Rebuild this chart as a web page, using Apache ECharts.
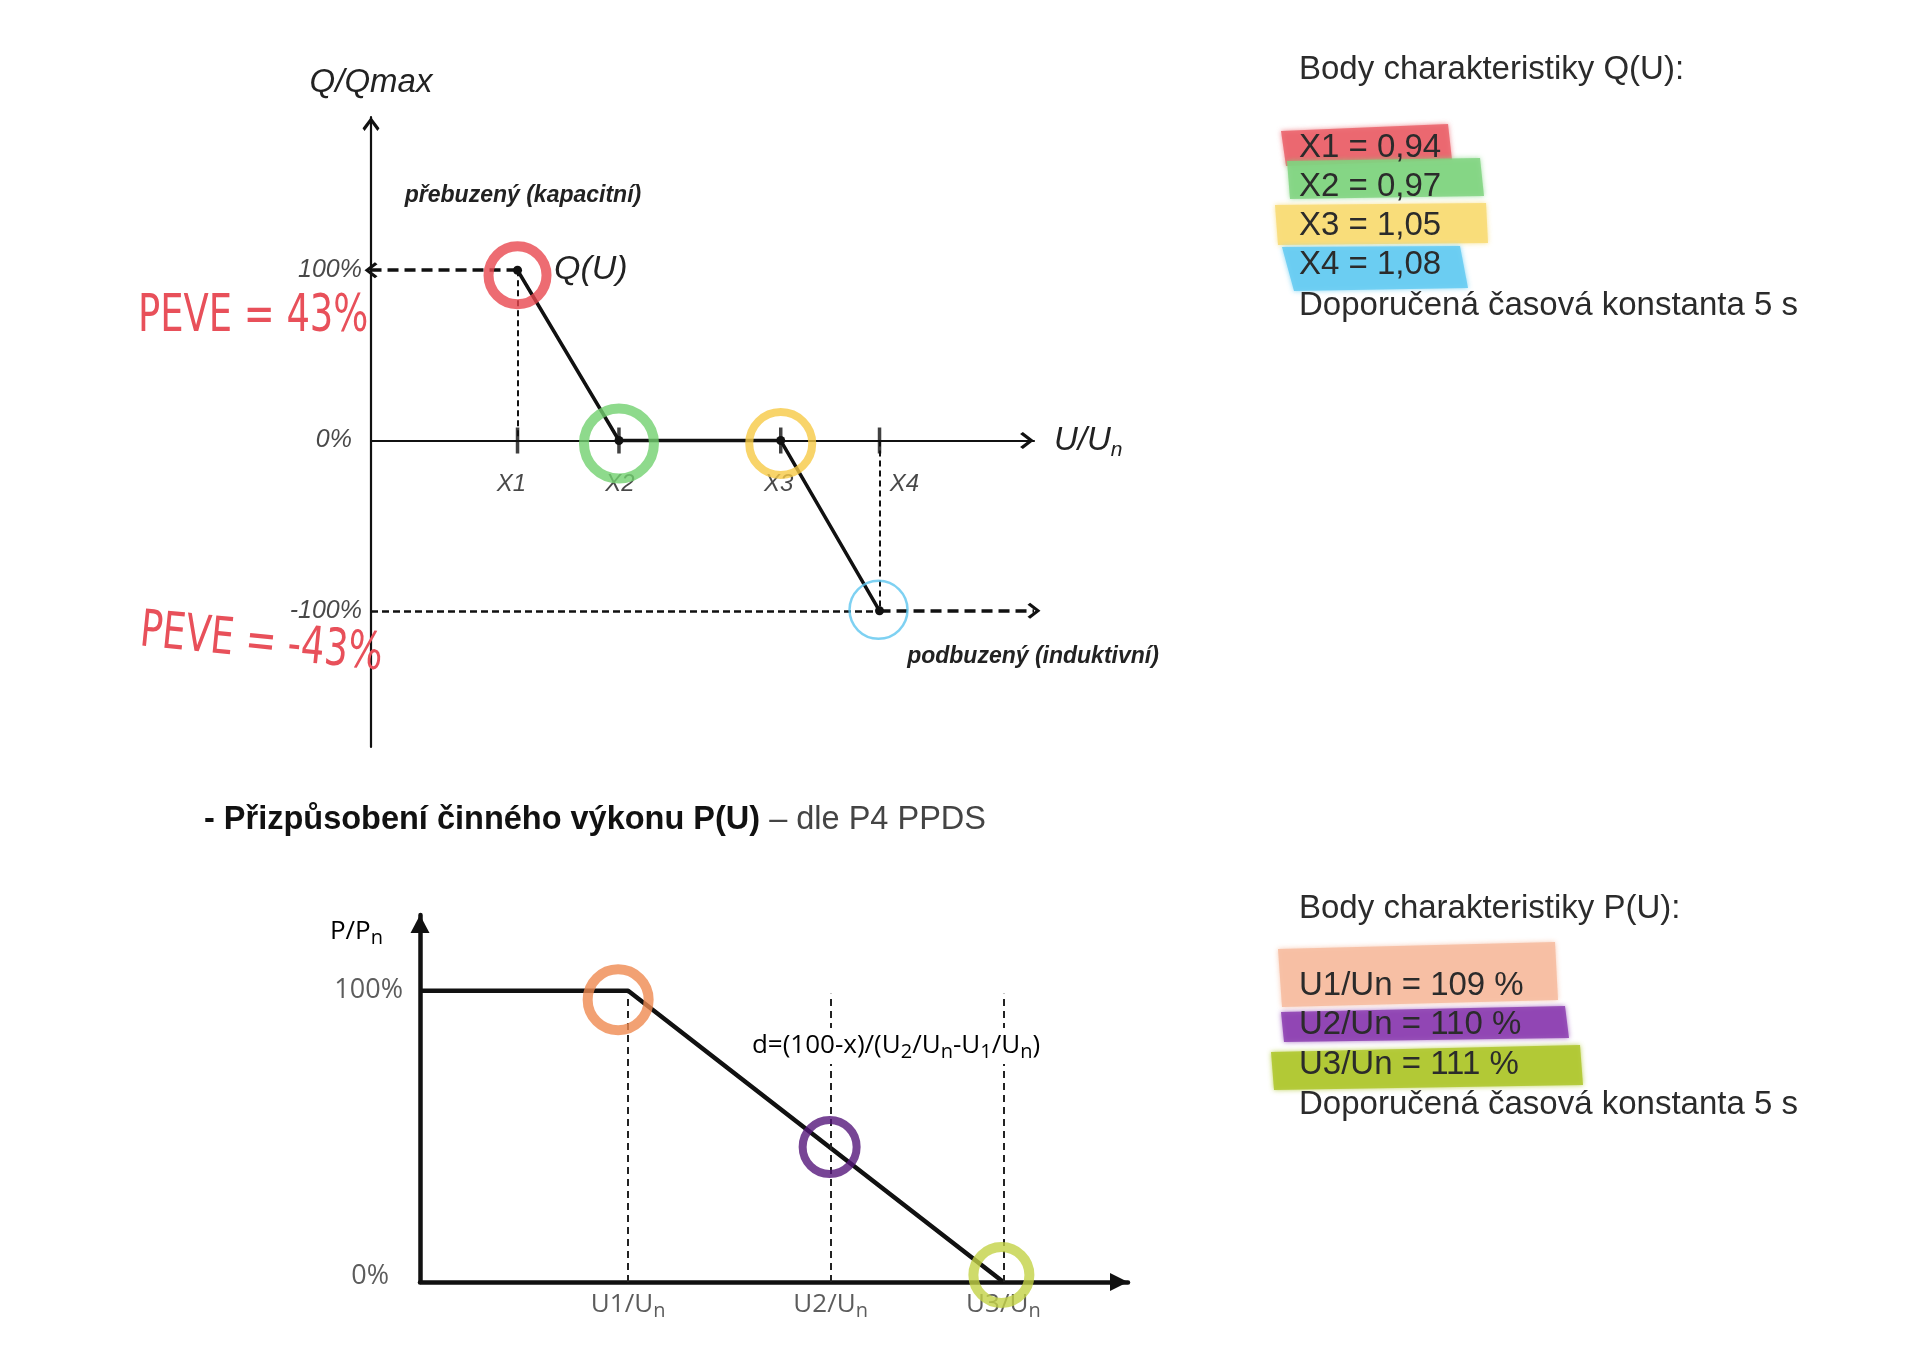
<!DOCTYPE html>
<html><head><meta charset="utf-8">
<script src="https://cdn.jsdelivr.net/npm/echarts@6/dist/echarts.min.js"></script>
<style>html,body{margin:0;padding:0;background:#fff}#c{width:1918px;height:1346px}</style>
</head><body><div id="c"></div>
<script>
// ---------- Q(U) characteristic ----------
const qPointNames = ['X1', 'X2', 'X3', 'X4'];
const qPointValues = ['0,94', '0,97', '1,05', '1,08'];      // U/Un
const qPointPos = [22.1, 37.4, 61.8, 76.7];                 // schematic position on the U/Un axis (0-100)
const qPointQ = [100, 0, 0, -100];                          // Q/Qmax [%]
const qTickValues = [100, 0, -100];
const qTickLabels = ['100%', '0%', '-100%'];
const qArrowEnd = 100;
const qNotes = ['PEVE = 43%', 'PEVE = -43%'];
// ---------- P(U) characteristic ----------
const pPointNames = ['U1', 'U2', 'U3'];
const pPointPercent = [109, 110, 111];                      // U/Un [%]
const pPointPos = [29.4, 58.0, 82.4];                       // schematic position on the U/Un axis (0-100)
const pPointP = [100, 46, 0];                               // P/Pn [%]
const pStartP = 100;
const pGuideTop = 99;
const pTickValues = [100, 0];
const pTickLabels = ['100%', '0%'];
const recTimeS = 5;

const FA = "'Liberation Sans', Arial, Helvetica, sans-serif";
const FO = "'Open Sans', 'Noto Sans', sans-serif";
const FN = "'Liberation Sans Narrow', 'DejaVu Sans Condensed', 'Liberation Sans', sans-serif";
const CHEV = 'path://M61.5,0 L123,80 L108,100 L61.5,38 L15,100 L0,80 Z';
const INK = '#111';

const thick = {type: [11, 6], width: 3.5, color: INK};
const thin = {type: [6, 4], width: 2, color: INK};
const mid = {type: [7, 4], width: 2.5, color: INK};

const qRing = [
  {c: '#e8474f', s: 58, w: 10, off: [0, 5]},
  {c: '#72d16f', s: 70, w: 10, off: [0, 3]},
  {c: '#f6c945', s: 63, w: 8, off: [0, 3]},
  {c: '#5ec6ef', s: 58, w: 2.5, off: [-1, -1]}
];
const pRing = [
  {c: '#ef8a50', s: 61, w: 10, off: [-10, 9]},
  {c: '#55177a', s: 54, w: 8, off: [-1, -1]},
  {c: '#c3d246', s: 56, w: 10, off: [-2, -7]}
];
const qLabelShift = [-6, 1, -2, 25];

const subRich = {
  a: {fontFamily: FO, fontSize: 26, color: '#333', lineHeight: 32},
  n: {fontFamily: FO, fontSize: 20, color: '#333', lineHeight: 25, verticalAlign: 'bottom'}
};

const chart = echarts.init(document.getElementById('c'), null, {renderer: 'canvas', width: 1918, height: 1346});

const graphic = [];
// highlighter bands
const bands = [
  {p: [[1281,131],[1448,124],[1452,160],[1286,166]], c: 'rgba(234,98,106,0.85)'},
  {p: [[1287,161],[1480,158],[1484,196],[1290,199]], c: 'rgba(128,212,128,0.85)'},
  {p: [[1275,205],[1486,203],[1488,243],[1278,245]], c: 'rgba(248,220,120,0.9)'},
  {p: [[1282,247],[1460,246],[1468,288],[1294,291]], c: 'rgba(104,204,242,0.9)'},
  {p: [[1278,949],[1555,942],[1558,1000],[1282,1007]], c: 'rgba(246,190,162,0.9)'},
  {p: [[1281,1012],[1565,1006],[1569,1038],[1284,1042]], c: 'rgba(140,62,176,0.85)'},
  {p: [[1271,1052],[1580,1045],[1583,1085],[1274,1090]], c: 'rgba(176,200,50,0.9)'}
];
bands.forEach(b => graphic.push({type: 'polygon', z: 50, silent: true, shape: {points: b.p},
  style: {fill: b.c, shadowBlur: 5, shadowColor: b.c}}));

function txt(x, y, text, st, extra) {
  graphic.push(Object.assign({type: 'text', x: x, y: y, z: 60, silent: true,
    style: Object.assign({text: text, verticalAlign: 'middle', align: 'left'}, st)}, extra || {}));
}
const panel = {fontFamily: FA, fontSize: 33, fill: '#2b2b2b'};
txt(1299, 70, 'Body charakteristiky Q(U):', panel);
const qRows = [148, 187, 226, 265];
qPointNames.forEach((n, i) => txt(1299, qRows[i], n + ' = ' + qPointValues[i], panel));
txt(1299, 306, 'Doporučená časová konstanta ' + recTimeS + ' s', panel);
txt(1299, 909, 'Body charakteristiky P(U):', panel);
const pRows = [986, 1025, 1065];
pPointNames.forEach((n, i) => txt(1299, pRows[i], n + '/Un = ' + pPointPercent[i] + ' %', panel));
txt(1299, 1105, 'Doporučená časová konstanta ' + recTimeS + ' s', panel);

// section heading
txt(204, 820, '{b|- Přizpůsobení činného výkonu P(U)}{l| – dle P4 PPDS}', {
  rich: {b: {fontFamily: FA, fontWeight: 'bold', fontSize: 32.5, fill: '#111'},
         l: {fontFamily: FA, fontSize: 32.5, fill: '#444'}}
});

// top chart annotations
const ital = {fontFamily: FA, fontStyle: 'italic', fill: '#222'};
txt(523, 196, 'přebuzený (kapacitní)', Object.assign({fontSize: 23, fontWeight: 'bold', align: 'center'}, ital));
txt(1033, 657, 'podbuzený (induktivní)', Object.assign({fontSize: 23, fontWeight: 'bold', align: 'center'}, ital));
txt(554, 270, 'Q(U)', Object.assign({fontSize: 34}, ital));
// handwritten notes
const hand = {fontFamily: FN, fontSize: 41, fill: '#e8505a'};
txt(138, 318, qNotes[0], hand, {scaleY: 1.25});
txt(140, 632, qNotes[1], hand, {scaleY: 1.25, rotation: -0.1});

// bottom chart annotations
txt(383, 932, '{a|P/P}{n|n}', {align: 'right', rich: subRich});
txt(896, 1046, '{a|d=(100-x)/(U}{n|2}{a|/U}{n|n}{a|-U}{n|1}{a|/U}{n|n}{a|)}', {
  align: 'center', backgroundColor: '#fff', padding: [2, 4], rich: subRich});

const option = {
  backgroundColor: '#fff',
  animation: false,
  graphic: graphic,
  grid: [
    {left: 371, top: 117, width: 663, height: 630},
    {left: 420, top: 915, width: 708, height: 367}
  ],
  xAxis: [
    {gridIndex: 0, type: 'value', min: 0, max: 100,
     axisLine: {show: true, onZero: true, lineStyle: {color: INK, width: 2.2},
                symbol: ['none', CHEV], symbolSize: [17, 14], symbolOffset: [0, -7]},
     axisTick: {show: false}, axisLabel: {show: false}, splitLine: {show: false},
     name: '{u|U/U}{n|n}', nameLocation: 'end', nameGap: 20,
     nameTextStyle: {rich: {
       u: {fontFamily: FA, fontStyle: 'italic', fontSize: 33, color: '#222', lineHeight: 40},
       n: {fontFamily: FA, fontStyle: 'italic', fontSize: 21, color: '#222', lineHeight: 22, verticalAlign: 'bottom'}}}},
    {gridIndex: 1, type: 'value', min: 0, max: 100,
     axisLine: {show: true, onZero: true, lineStyle: {color: INK, width: 4.5},
                symbol: ['none', 'triangle'], symbolSize: [18, 18], symbolOffset: [0, -9]},
     axisTick: {show: false}, axisLabel: {show: false}, splitLine: {show: false}}
  ],
  yAxis: [
    {gridIndex: 0, type: 'value', min: -180, max: 190,
     axisLine: {show: true, onZero: true, lineStyle: {color: INK, width: 2.2},
                symbol: ['none', CHEV], symbolSize: [17, 14], symbolOffset: [0, -7]},
     axisTick: {show: false}, axisLabel: {show: false}, splitLine: {show: false},
     name: 'Q/Qmax', nameLocation: 'end', nameGap: 18,
     nameTextStyle: {fontFamily: FA, fontStyle: 'italic', fontSize: 33, color: '#222'}},
    {gridIndex: 1, type: 'value', min: 0, max: 126,
     axisLine: {show: true, onZero: true, lineStyle: {color: INK, width: 4.5},
                symbol: ['none', 'triangle'], symbolSize: [19, 18], symbolOffset: [0, -9]},
     axisTick: {show: false}, axisLabel: {show: false}, splitLine: {show: false}}
  ],
  series: [
    // ---- Q(U) ----
    {type: 'line', xAxisIndex: 0, yAxisIndex: 0, z: 4, silent: true,
     data: qPointPos.map((x, i) => [x, qPointQ[i]]),
     lineStyle: {color: INK, width: 3.5}, itemStyle: {color: INK},
     symbol: 'circle', symbolSize: 9, showSymbol: true,
     markLine: {silent: true, symbol: ['none', 'none'], label: {show: false},
       lineStyle: {color: INK}, itemStyle: {color: INK}, emphasis: {disabled: true},
       data: [
         [{coord: [qPointPos[0], qPointQ[0]], lineStyle: thick}, {coord: [0, qPointQ[0]], symbol: CHEV, symbolSize: [16, 13]}],
         [{coord: [qPointPos[0], qPointQ[0]], lineStyle: thin}, {coord: [qPointPos[0], 0]}],
         [{coord: [0, qPointQ[3]], lineStyle: mid}, {coord: [qPointPos[3], qPointQ[3]]}],
         [{coord: [qPointPos[3], qPointQ[3]], lineStyle: thick}, {coord: [qArrowEnd, qPointQ[3]], symbol: CHEV, symbolSize: [16, 13]}],
         [{coord: [qPointPos[3], 0], lineStyle: thin}, {coord: [qPointPos[3], qPointQ[3]]}]
       ]}},
    {type: 'scatter', xAxisIndex: 0, yAxisIndex: 0, z: 5, silent: true,
     symbol: 'rect', symbolSize: [3.5, 26], itemStyle: {color: INK},
     data: qPointPos.map((x, i) => ({value: [x, 0], label: {offset: [qLabelShift[i], 0]}})),
     label: {show: true, position: 'bottom', distance: 19, formatter: p => qPointNames[p.dataIndex],
             fontFamily: FA, fontStyle: 'italic', fontSize: 24, color: '#1a1a1a'}},
    {type: 'scatter', xAxisIndex: 0, yAxisIndex: 0, z: 5, silent: true, symbolSize: 0,
     data: qTickValues.map((v, i) => ({value: [0, v], label: {distance: v === 0 ? 19 : 9}})),
     label: {show: true, position: 'left', formatter: p => qTickLabels[p.dataIndex],
             fontFamily: FA, fontStyle: 'italic', fontSize: 25, color: '#1a1a1a'}},
    {type: 'scatter', xAxisIndex: 0, yAxisIndex: 0, z: 10, silent: true, symbol: 'circle',
     data: qPointPos.map((x, i) => ({value: [x, qPointQ[i]], symbolSize: qRing[i].s, symbolOffset: qRing[i].off,
       itemStyle: {color: 'rgba(0,0,0,0)', borderColor: qRing[i].c, borderWidth: qRing[i].w}}))},
    // ---- P(U) ----
    {type: 'line', xAxisIndex: 1, yAxisIndex: 1, z: 4, silent: true,
     data: [[0, pStartP]].concat(pPointPos.map((x, i) => [x, pPointP[i]])),
     lineStyle: {color: INK, width: 4.5}, showSymbol: false, symbol: 'none',
     markLine: {silent: true, symbol: ['none', 'none'], label: {show: false}, emphasis: {disabled: true},
       data: pPointPos.map(x => [{coord: [x, 0], lineStyle: {type: [7, 5], width: 2, color: '#222'}}, {coord: [x, pGuideTop]}])}},
    {type: 'scatter', xAxisIndex: 1, yAxisIndex: 1, z: 5, silent: true, symbolSize: 0,
     data: pPointPos.map(x => [x, 0]),
     label: {show: true, position: 'bottom', distance: 7,
             formatter: p => '{a|' + pPointNames[p.dataIndex] + '/U}{n|n}', rich: subRich}},
    {type: 'scatter', xAxisIndex: 1, yAxisIndex: 1, z: 5, silent: true, symbolSize: 0,
     data: pTickValues.map(v => ({value: [0, v], label: v === 0 ? {distance: 31, offset: [0, -6]} : {distance: 17}})),
     label: {show: true, position: 'left', formatter: p => pTickLabels[p.dataIndex],
             fontFamily: FO, fontSize: 27, color: '#333'}},
    {type: 'scatter', xAxisIndex: 1, yAxisIndex: 1, z: 10, silent: true, symbol: 'circle',
     data: pPointPos.map((x, i) => ({value: [x, pPointP[i]], symbolSize: pRing[i].s, symbolOffset: pRing[i].off,
       itemStyle: {color: 'rgba(0,0,0,0)', borderColor: pRing[i].c, borderWidth: pRing[i].w}}))}
  ]
};
chart.setOption(option);
</script>
</body></html>
